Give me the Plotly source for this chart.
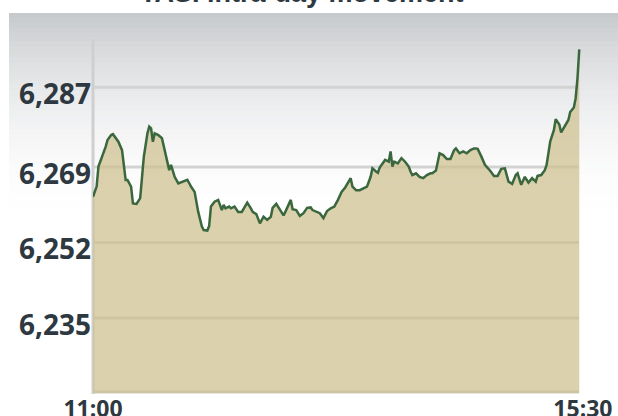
import plotly.graph_objects as go

# ---------------- data ----------------
DAY = "2011-06-01 "
title_text = "TASI intra-day movement"

times = [
    "11:00", "11:02", "11:03", "11:04", "11:05", "11:07", "11:08", "11:10", "11:11", "11:12",
    "11:14", "11:16", "11:17", "11:18", "11:19", "11:21", "11:22", "11:24", "11:26", "11:27",
    "11:28", "11:30", "11:31", "11:32", "11:33", "11:34", "11:36", "11:38", "11:39", "11:41",
    "11:42", "11:43", "11:45", "11:47", "11:50", "11:52", "11:53", "11:54", "11:56", "11:58",
    "12:00", "12:01", "12:03", "12:04", "12:05", "12:07", "12:09", "12:11", "12:12", "12:13",
    "12:15", "12:16", "12:18", "12:20", "12:22", "12:24", "12:25", "12:27", "12:28", "12:30",
    "12:32", "12:34", "12:36", "12:38", "12:39", "12:41", "12:43", "12:45", "12:46", "12:49",
    "12:50", "12:52", "12:54", "12:56", "12:58", "13:00", "13:01", "13:03", "13:05", "13:07",
    "13:09", "13:11", "13:13", "13:15", "13:17", "13:19", "13:21", "13:22", "13:23", "13:25",
    "13:27", "13:29", "13:31", "13:33", "13:34", "13:36", "13:37", "13:38", "13:41", "13:43",
    "13:44", "13:45", "13:46", "13:48", "13:50", "13:52", "13:54", "13:55", "13:56", "13:58",
    "14:00", "14:02", "14:04", "14:06", "14:07", "14:09", "14:10", "14:11", "14:13", "14:15",
    "14:17", "14:19", "14:20", "14:22", "14:24", "14:26", "14:28", "14:30", "14:31", "14:32",
    "14:34", "14:36", "14:39", "14:41", "14:43", "14:45", "14:47", "14:49", "14:51", "14:53",
    "14:54", "14:56", "14:58", "15:00", "15:02", "15:04", "15:05", "15:07", "15:09", "15:10",
    "15:12", "15:14", "15:15", "15:17", "15:18", "15:20", "15:22", "15:23", "15:25", "15:26",
    "15:27", "15:28",
]

values = [
    6262.3, 6264.6, 6269.1, 6270.2, 6271.0, 6273.6, 6275.1, 6276.2, 6276.4, 6275.8,
    6274.7, 6272.8, 6269.8, 6266.1, 6266.1, 6264.6, 6260.8, 6260.7, 6262.0, 6266.1,
    6271.3, 6276.6, 6278.1, 6277.7, 6274.7, 6276.6, 6276.2, 6275.5, 6273.6, 6269.8,
    6268.3, 6269.5, 6266.8, 6265.3, 6265.7, 6266.1, 6265.4, 6264.6, 6263.4, 6258.9,
    6255.6, 6254.8, 6254.7, 6255.7, 6260.1, 6261.2, 6261.6, 6259.3, 6260.5, 6259.7,
    6260.1, 6259.7, 6260.1, 6258.9, 6258.9, 6260.5, 6261.0, 6259.7, 6258.9, 6258.4,
    6256.3, 6257.8, 6257.1, 6257.8, 6259.8, 6260.7, 6259.3, 6258.1, 6258.9, 6261.6,
    6259.5, 6259.3, 6258.0, 6258.6, 6259.8, 6259.9, 6259.3, 6258.9, 6258.6, 6257.5,
    6259.1, 6259.7, 6260.1, 6261.6, 6263.4, 6264.4, 6265.7, 6266.5, 6264.6, 6263.8,
    6263.8, 6264.2, 6264.6, 6266.8, 6268.7, 6268.0, 6267.7, 6268.9, 6270.6, 6270.2,
    6272.5, 6269.1, 6270.2, 6269.8, 6271.0, 6270.2, 6269.1, 6268.0, 6267.2, 6267.6,
    6266.8, 6266.5, 6267.2, 6267.6, 6267.6, 6268.2, 6270.2, 6272.1, 6271.7, 6270.8,
    6270.8, 6272.8, 6273.2, 6272.1, 6272.5, 6272.1, 6272.8, 6273.2, 6273.2, 6273.1,
    6271.4, 6269.5, 6268.1, 6267.0, 6267.0, 6268.6, 6268.7, 6265.7, 6265.2, 6267.2,
    6267.6, 6265.0, 6266.8, 6265.5, 6266.5, 6265.7, 6267.0, 6267.2, 6268.3, 6269.5,
    6274.8, 6277.3, 6279.8, 6278.6, 6276.8, 6278.2, 6279.6, 6281.4, 6282.4, 6284.5,
    6289.0, 6295.5,
]

y_ticks = [6235, 6252, 6269, 6287]
y_tick_labels = ["6,235", "6,252", "6,269", "6,287"]
x_ticks = ["11:00", "15:30"]
x_range = ["11:00", "15:30"]
y_range = [6218.1, 6303.7]

# ---------------- layout geometry (pixels) ----------------
W, H = 618, 416
L, R, T, B = 93, 35, 13, 23
PW, PH = W - L - R, H - T - B


def px_x(px):
    return (px - L) / PW


def px_y(py):
    return (H - B - py) / PH


TEXT = "#2e3840"

shapes = []
# background gradient (grey at top fading to white)
top_rgb = (198, 201, 204)
n_steps = 44
span = 215
for i in range(n_steps):
    y0 = T + i * span / n_steps
    y1 = T + (i + 1) * span / n_steps
    t = (i + 0.5) / n_steps
    k = (1 - t) ** 2
    col = tuple(round(255 - (255 - c) * k) for c in top_rgb)
    shapes.append(dict(type="rect", xref="paper", yref="paper",
                       x0=px_x(9), x1=px_x(W + 2), y0=px_y(y1 + 0.5), y1=px_y(y0),
                       fillcolor="rgb(%d,%d,%d)" % col, line=dict(width=0), layer="below"))

# horizontal gridlines
for v in y_ticks:
    shapes.append(dict(type="line", xref="paper", yref="y", x0=0, x1=px_x(579), y0=v, y1=v,
                       line=dict(color="#d3d3d3", width=3), layer="below"))
# left and bottom axis lines
shapes.append(dict(type="line", xref="paper", yref="paper", x0=0, x1=0,
                   y0=px_y(39), y1=px_y(H - B + 1),
                   line=dict(color="#cfcfcf", width=3), layer="below"))
shapes.append(dict(type="line", xref="paper", yref="paper", x0=0, x1=px_x(579),
                   y0=px_y(H - B - 1), y1=px_y(H - B - 1),
                   line=dict(color="#cfcfcf", width=3), layer="below"))

fig = go.Figure()
fig.add_trace(go.Scatter(
    x=[DAY + t for t in times], y=values, mode="lines",
    line=dict(color="#3a673d", width=2.5),
    fill="tozeroy", fillcolor="rgba(206,191,141,0.72)",
    hoverinfo="skip", showlegend=False,
))

fig.update_layout(
    width=W, height=H,
    margin=dict(l=L, r=R, t=T, b=B, pad=0, autoexpand=False),
    paper_bgcolor="white", plot_bgcolor="rgba(0,0,0,0)",
    shapes=shapes,
    showlegend=False,
    xaxis=dict(
        type="date",
        range=[DAY + x_range[0], DAY + x_range[1] + ":03"],
        tickvals=[DAY + t for t in x_ticks], ticktext=x_ticks,
        showgrid=False, zeroline=False, showline=False, ticks="",
        automargin=False, ticklabelstandoff=0,
        tickfont=dict(family="Open Sans", size=23, color=TEXT, weight="bold"),
        fixedrange=True,
    ),
    yaxis=dict(
        range=y_range,
        tickvals=y_ticks, ticktext=y_tick_labels,
        showgrid=False, zeroline=False, showline=False, ticks="",
        automargin=False,
        ticklabelshift=7, ticklabelstandoff=1,
        tickfont=dict(family="Open Sans", size=28, color=TEXT, weight="bold"),
        fixedrange=True,
    ),
    annotations=[dict(
        text=title_text, xref="paper", yref="paper",
        x=px_x(302), y=px_y(-7), xanchor="center", yanchor="middle",
        showarrow=False,
        font=dict(family="Liberation Sans", size=27, color=TEXT, weight="bold"),
    )],
)

fig.write_html(
    "out.html",
    config={"displayModeBar": False},
    post_script="document.body.style.margin='0';document.body.style.overflow='hidden';",
)
